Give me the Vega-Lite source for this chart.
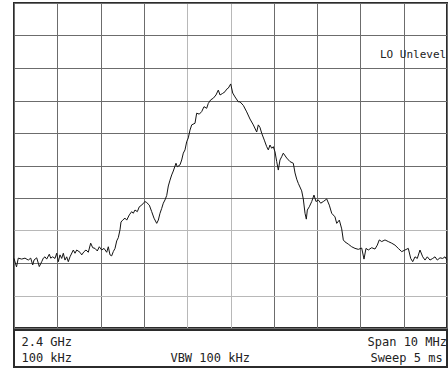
{
  "$schema": "https://vega.github.io/schema/vega-lite/v6.json",
  "background": "white",
  "padding": {"left": 11, "top": 2, "right": 0, "bottom": 0},
  "spacing": 0,
  "config": {
    "view": {"stroke": "#2b2b2b", "strokeWidth": 2, "fill": "white"},
    "concat": {"spacing": 0},
    "axis": {"minExtent": 0, "maxExtent": 0, "offset": 0, "labels": false, "ticks": false, "domain": false, "title": null, "labelPadding": 0, "tickSize": 0},
    "text": {"font": "DejaVu Sans Mono", "color": "#222222"}
  },
  "datasets": {
    "trace": [
      {"freq": 2395.000, "dBm": -78.6}, {"freq": 2395.058, "dBm": -81.2}, {"freq": 2395.099, "dBm": -78.5},
      {"freq": 2395.178, "dBm": -78.8}, {"freq": 2395.254, "dBm": -78.5}, {"freq": 2395.330, "dBm": -79.1},
      {"freq": 2395.386, "dBm": -78.5}, {"freq": 2395.432, "dBm": -80.6}, {"freq": 2395.462, "dBm": -79.1},
      {"freq": 2395.524, "dBm": -78.4}, {"freq": 2395.584, "dBm": -81.1}, {"freq": 2395.640, "dBm": -79.6},
      {"freq": 2395.677, "dBm": -78.5}, {"freq": 2395.716, "dBm": -78.1}, {"freq": 2395.755, "dBm": -78.8},
      {"freq": 2395.815, "dBm": -77.3}, {"freq": 2395.848, "dBm": -78.5}, {"freq": 2395.894, "dBm": -78.1},
      {"freq": 2395.947, "dBm": -78.6}, {"freq": 2395.986, "dBm": -77.0}, {"freq": 2396.023, "dBm": -79.6},
      {"freq": 2396.062, "dBm": -77.5}, {"freq": 2396.102, "dBm": -78.6}, {"freq": 2396.139, "dBm": -77.0},
      {"freq": 2396.178, "dBm": -79.1}, {"freq": 2396.217, "dBm": -78.1}, {"freq": 2396.254, "dBm": -79.6},
      {"freq": 2396.293, "dBm": -78.1}, {"freq": 2396.370, "dBm": -76.0}, {"freq": 2396.409, "dBm": -77.0},
      {"freq": 2396.448, "dBm": -76.0}, {"freq": 2396.524, "dBm": -76.7}, {"freq": 2396.564, "dBm": -77.5},
      {"freq": 2396.617, "dBm": -76.5}, {"freq": 2396.663, "dBm": -76.0}, {"freq": 2396.716, "dBm": -76.7},
      {"freq": 2396.771, "dBm": -73.9}, {"freq": 2396.818, "dBm": -75.3}, {"freq": 2396.871, "dBm": -75.5},
      {"freq": 2396.924, "dBm": -76.3}, {"freq": 2396.970, "dBm": -75.0}, {"freq": 2397.025, "dBm": -76.0},
      {"freq": 2397.079, "dBm": -75.5}, {"freq": 2397.141, "dBm": -76.7}, {"freq": 2397.178, "dBm": -75.0},
      {"freq": 2397.217, "dBm": -77.5}, {"freq": 2397.256, "dBm": -77.8}, {"freq": 2397.293, "dBm": -76.5},
      {"freq": 2397.333, "dBm": -75.5}, {"freq": 2397.372, "dBm": -73.2}, {"freq": 2397.409, "dBm": -72.2},
      {"freq": 2397.448, "dBm": -69.8}, {"freq": 2397.471, "dBm": -67.4}, {"freq": 2397.510, "dBm": -66.8},
      {"freq": 2397.564, "dBm": -66.2}, {"freq": 2397.603, "dBm": -66.8}, {"freq": 2397.663, "dBm": -65.2},
      {"freq": 2397.718, "dBm": -64.2}, {"freq": 2397.755, "dBm": -64.7}, {"freq": 2397.794, "dBm": -63.7},
      {"freq": 2397.848, "dBm": -64.2}, {"freq": 2397.894, "dBm": -62.7}, {"freq": 2397.949, "dBm": -62.2},
      {"freq": 2397.986, "dBm": -61.6}, {"freq": 2398.025, "dBm": -61.1}, {"freq": 2398.065, "dBm": -61.4},
      {"freq": 2398.125, "dBm": -62.2}, {"freq": 2398.180, "dBm": -64.2}, {"freq": 2398.233, "dBm": -66.2},
      {"freq": 2398.296, "dBm": -67.8}, {"freq": 2398.333, "dBm": -66.8}, {"freq": 2398.372, "dBm": -64.7},
      {"freq": 2398.411, "dBm": -63.2}, {"freq": 2398.448, "dBm": -61.6}, {"freq": 2398.487, "dBm": -60.6},
      {"freq": 2398.527, "dBm": -59.2}, {"freq": 2398.564, "dBm": -56.3}, {"freq": 2398.603, "dBm": -54.5},
      {"freq": 2398.642, "dBm": -52.9}, {"freq": 2398.679, "dBm": -51.7}, {"freq": 2398.741, "dBm": -49.3},
      {"freq": 2398.771, "dBm": -50.4}, {"freq": 2398.834, "dBm": -49.8}, {"freq": 2398.873, "dBm": -48.3},
      {"freq": 2398.910, "dBm": -46.2}, {"freq": 2398.949, "dBm": -45.2}, {"freq": 2398.988, "dBm": -42.7},
      {"freq": 2399.025, "dBm": -41.5}, {"freq": 2399.065, "dBm": -39.1}, {"freq": 2399.104, "dBm": -37.5},
      {"freq": 2399.180, "dBm": -37.0}, {"freq": 2399.219, "dBm": -33.9}, {"freq": 2399.279, "dBm": -34.2},
      {"freq": 2399.335, "dBm": -33.4}, {"freq": 2399.388, "dBm": -31.9}, {"freq": 2399.450, "dBm": -32.4},
      {"freq": 2399.487, "dBm": -30.9}, {"freq": 2399.543, "dBm": -29.8}, {"freq": 2399.603, "dBm": -29.3},
      {"freq": 2399.665, "dBm": -28.3}, {"freq": 2399.718, "dBm": -26.8}, {"freq": 2399.758, "dBm": -28.3},
      {"freq": 2399.820, "dBm": -27.8}, {"freq": 2399.873, "dBm": -27.3}, {"freq": 2399.912, "dBm": -26.5},
      {"freq": 2399.949, "dBm": -26.2}, {"freq": 2400.005, "dBm": -24.9}, {"freq": 2400.051, "dBm": -27.7},
      {"freq": 2400.104, "dBm": -28.9}, {"freq": 2400.180, "dBm": -30.4}, {"freq": 2400.219, "dBm": -30.4},
      {"freq": 2400.296, "dBm": -31.5}, {"freq": 2400.374, "dBm": -33.5}, {"freq": 2400.450, "dBm": -35.7},
      {"freq": 2400.527, "dBm": -37.5}, {"freq": 2400.605, "dBm": -39.7}, {"freq": 2400.642, "dBm": -37.5},
      {"freq": 2400.681, "dBm": -38.3}, {"freq": 2400.721, "dBm": -40.1}, {"freq": 2400.781, "dBm": -42.2},
      {"freq": 2400.836, "dBm": -44.2}, {"freq": 2400.873, "dBm": -45.2}, {"freq": 2400.912, "dBm": -43.7},
      {"freq": 2400.952, "dBm": -44.7}, {"freq": 2400.988, "dBm": -44.2}, {"freq": 2401.028, "dBm": -45.8},
      {"freq": 2401.067, "dBm": -48.8}, {"freq": 2401.104, "dBm": -51.4}, {"freq": 2401.143, "dBm": -48.3},
      {"freq": 2401.182, "dBm": -47.3}, {"freq": 2401.219, "dBm": -46.2}, {"freq": 2401.298, "dBm": -47.7},
      {"freq": 2401.374, "dBm": -48.8}, {"freq": 2401.450, "dBm": -49.3}, {"freq": 2401.490, "dBm": -52.3},
      {"freq": 2401.529, "dBm": -54.2}, {"freq": 2401.566, "dBm": -55.5}, {"freq": 2401.644, "dBm": -57.8},
      {"freq": 2401.681, "dBm": -60.3}, {"freq": 2401.721, "dBm": -64.7}, {"freq": 2401.751, "dBm": -66.5},
      {"freq": 2401.774, "dBm": -63.7}, {"freq": 2401.820, "dBm": -62.7}, {"freq": 2401.875, "dBm": -61.1},
      {"freq": 2401.928, "dBm": -59.1}, {"freq": 2401.975, "dBm": -61.1}, {"freq": 2402.028, "dBm": -60.6},
      {"freq": 2402.083, "dBm": -61.6}, {"freq": 2402.143, "dBm": -61.1}, {"freq": 2402.222, "dBm": -60.3},
      {"freq": 2402.282, "dBm": -62.2}, {"freq": 2402.337, "dBm": -64.7}, {"freq": 2402.413, "dBm": -65.8},
      {"freq": 2402.453, "dBm": -67.8}, {"freq": 2402.513, "dBm": -66.8}, {"freq": 2402.568, "dBm": -69.5},
      {"freq": 2402.605, "dBm": -72.9}, {"freq": 2402.644, "dBm": -73.5}, {"freq": 2402.721, "dBm": -74.2},
      {"freq": 2402.799, "dBm": -75.0}, {"freq": 2402.875, "dBm": -75.5}, {"freq": 2402.952, "dBm": -75.8},
      {"freq": 2403.030, "dBm": -75.4}, {"freq": 2403.083, "dBm": -78.8}, {"freq": 2403.129, "dBm": -75.5},
      {"freq": 2403.182, "dBm": -76.0}, {"freq": 2403.261, "dBm": -75.3}, {"freq": 2403.337, "dBm": -75.7},
      {"freq": 2403.390, "dBm": -74.5}, {"freq": 2403.436, "dBm": -72.9}, {"freq": 2403.492, "dBm": -73.4},
      {"freq": 2403.568, "dBm": -72.9}, {"freq": 2403.644, "dBm": -73.4}, {"freq": 2403.723, "dBm": -73.9},
      {"freq": 2403.799, "dBm": -74.5}, {"freq": 2403.875, "dBm": -75.5}, {"freq": 2403.954, "dBm": -76.5},
      {"freq": 2404.030, "dBm": -76.0}, {"freq": 2404.106, "dBm": -75.5}, {"freq": 2404.162, "dBm": -78.6},
      {"freq": 2404.208, "dBm": -79.6}, {"freq": 2404.261, "dBm": -78.1}, {"freq": 2404.314, "dBm": -78.6},
      {"freq": 2404.376, "dBm": -76.0}, {"freq": 2404.439, "dBm": -78.1}, {"freq": 2404.492, "dBm": -79.1},
      {"freq": 2404.545, "dBm": -78.1}, {"freq": 2404.607, "dBm": -79.1}, {"freq": 2404.670, "dBm": -78.6},
      {"freq": 2404.723, "dBm": -78.1}, {"freq": 2404.776, "dBm": -79.1}, {"freq": 2404.838, "dBm": -78.4},
      {"freq": 2404.901, "dBm": -78.6}, {"freq": 2404.954, "dBm": -78.1}, {"freq": 2405.000, "dBm": -79.1}
    ]
  },
  "vconcat": [
    {
      "width": 433,
      "height": 325,
      "layer": [
        {
          "data": {"name": "trace"},
          "mark": {"type": "line", "color": "#141414", "strokeWidth": 1},
          "encoding": {
            "x": {
              "field": "freq", "type": "quantitative",
              "scale": {"domain": [2395, 2405], "nice": false, "zero": false},
              "axis": {
                "values": [2395, 2396, 2397, 2398, 2399, 2400, 2401, 2402, 2403, 2404, 2405],
                "grid": true, "labels": false, "ticks": false, "domain": false, "title": null,
                "gridWidth": 1, "gridOpacity": 1,
                "gridColor": {"condition": {"test": "datum.value == 2399 || datum.value == 2400", "value": "#b8b8b8"}, "value": "#6c6c6c"}
              }
            },
            "y": {
              "field": "dBm", "type": "quantitative",
              "scale": {"domain": [-100, 0], "nice": false, "zero": false},
              "axis": {
                "values": [-100, -90, -80, -70, -60, -50, -40, -30, -20, -10, 0],
                "grid": true, "labels": false, "ticks": false, "domain": false, "title": null,
                "gridWidth": 1, "gridOpacity": 1,
                "gridColor": {"condition": {"test": "datum.value == -70 || datum.value == -90", "value": "#b8b8b8"}, "value": "#6c6c6c"}
              }
            }
          }
        },
        {
          "data": {"values": [{"label": "LO Unlevel"}]},
          "mark": {"type": "text", "align": "right", "baseline": "middle", "fontSize": 11, "font": "DejaVu Sans Mono", "color": "#222222"},
          "encoding": {
            "x": {
              "datum": 2404.98, "type": "quantitative",
              "axis": {
                "values": [2395, 2396, 2397, 2398, 2399, 2400, 2401, 2402, 2403, 2404, 2405],
                "grid": true, "labels": false, "ticks": false, "domain": false, "title": null,
                "gridWidth": 1, "gridOpacity": 1,
                "gridColor": {"condition": {"test": "datum.value == 2399 || datum.value == 2400", "value": "#b8b8b8"}, "value": "#6c6c6c"}
              }
            },
            "y": {
              "datum": -16, "type": "quantitative",
              "axis": {
                "values": [-100, -90, -80, -70, -60, -50, -40, -30, -20, -10, 0],
                "grid": true, "labels": false, "ticks": false, "domain": false, "title": null,
                "gridWidth": 1, "gridOpacity": 1,
                "gridColor": {"condition": {"test": "datum.value == -70 || datum.value == -90", "value": "#b8b8b8"}, "value": "#6c6c6c"}
              }
            },
            "text": {"field": "label"}
          }
        }
      ]
    },
    {
      "width": 433,
      "height": 37,
      "layer": [
        {
          "data": {"values": [{"label": "2.4 GHz"}]},
          "mark": {"type": "text", "align": "right", "baseline": "alphabetic", "fontSize": 12, "font": "DejaVu Sans Mono", "color": "#222222"},
          "encoding": {
            "x": {"datum": 2396.34, "type": "quantitative", "scale": {"domain": [2395, 2405], "nice": false, "zero": false}, "axis": null},
            "y": {"datum": 1, "type": "quantitative", "scale": {"domain": [0, 2.3], "reverse": true, "nice": false, "zero": false}, "axis": null},
            "text": {"field": "label"}
          }
        },
        {
          "data": {"values": [{"label": "100 kHz"}]},
          "mark": {"type": "text", "align": "right", "baseline": "alphabetic", "fontSize": 12, "font": "DejaVu Sans Mono", "color": "#222222"},
          "encoding": {
            "x": {"datum": 2396.34, "axis": null},
            "y": {"datum": 2, "axis": null},
            "text": {"field": "label"}
          }
        },
        {
          "data": {"values": [{"label": "VBW 100 kHz"}]},
          "mark": {"type": "text", "align": "center", "baseline": "alphabetic", "fontSize": 12, "font": "DejaVu Sans Mono", "color": "#222222"},
          "encoding": {
            "x": {"datum": 2399.53, "axis": null},
            "y": {"datum": 2, "axis": null},
            "text": {"field": "label"}
          }
        },
        {
          "data": {"values": [{"label": "Span 10 MHz"}]},
          "mark": {"type": "text", "align": "right", "baseline": "alphabetic", "fontSize": 12, "font": "DejaVu Sans Mono", "color": "#222222"},
          "encoding": {
            "x": {"datum": 2405, "axis": null},
            "y": {"datum": 1, "axis": null},
            "text": {"field": "label"}
          }
        },
        {
          "data": {"values": [{"label": "Sweep 5 ms"}]},
          "mark": {"type": "text", "align": "right", "baseline": "alphabetic", "fontSize": 12, "font": "DejaVu Sans Mono", "color": "#222222"},
          "encoding": {
            "x": {"datum": 2404.9, "axis": null},
            "y": {"datum": 2, "axis": null},
            "text": {"field": "label"}
          }
        }
      ]
    }
  ]
}
